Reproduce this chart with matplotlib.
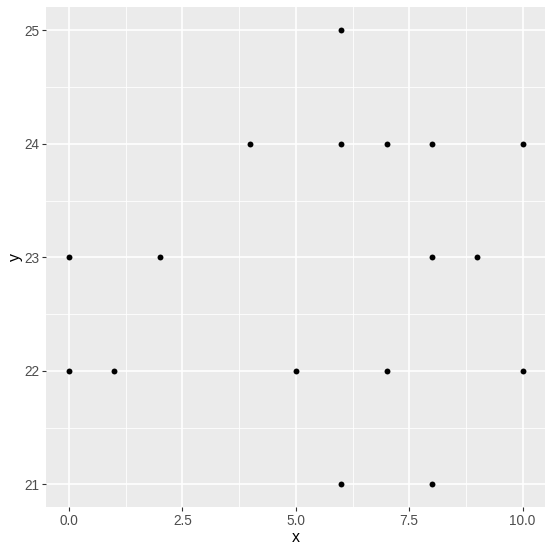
import matplotlib
matplotlib.use("Agg")
import matplotlib.pyplot as plt
import numpy as np

plt.rcParams['font.family'] = ['Liberation Sans', 'DejaVu Sans']

x = [6, 4, 6, 7, 8, 10, 0, 2, 8, 9, 0, 1, 5, 7, 10, 6, 8]
y = [25, 24, 24, 24, 24, 24, 23, 23, 23, 23, 22, 22, 22, 22, 22, 21, 21]
xticks = [0.0, 2.5, 5.0, 7.5, 10.0]
xtick_labels = ["0.0", "2.5", "5.0", "7.5", "10.0"]
yticks = [21, 22, 23, 24, 25]

fig = plt.figure(figsize=(5.53, 5.52), dpi=100)
ax = fig.add_axes([46.3/553, (552-507.2)/552, 499.0/553, 499.8/552])
ax.set_facecolor("#EBEBEB")
ax.set_xlim(-0.5, 10.5)
ax.set_ylim(20.8, 25.2)

for v in [1.25, 3.75, 6.25, 8.75]:
    ax.axvline(v, color="white", lw=0.6, zorder=0)
for v in [21.5, 22.5, 23.5, 24.5]:
    ax.axhline(v, color="white", lw=0.6, zorder=0)
for v in xticks:
    ax.axvline(v, color="white", lw=1.2, zorder=0)
for v in yticks:
    ax.axhline(v, color="white", lw=1.2, zorder=0)

ax.scatter(x, y, s=18, color="black", zorder=3, linewidths=0)

ax.set_xticks(xticks)
ax.set_xticklabels(xtick_labels)
ax.set_yticks(yticks)
for s in ax.spines.values():
    s.set_visible(False)
ax.tick_params(axis="both", colors="#333333", labelsize=9.8, length=3, width=0.8, pad=2)
ax.tick_params(axis="both", labelcolor="#4D4D4D")
ax.set_xlabel("x", fontsize=11.5, labelpad=1)
ax.set_ylabel("y", fontsize=11.5, labelpad=1)

fig.savefig("out.png", dpi=100)
